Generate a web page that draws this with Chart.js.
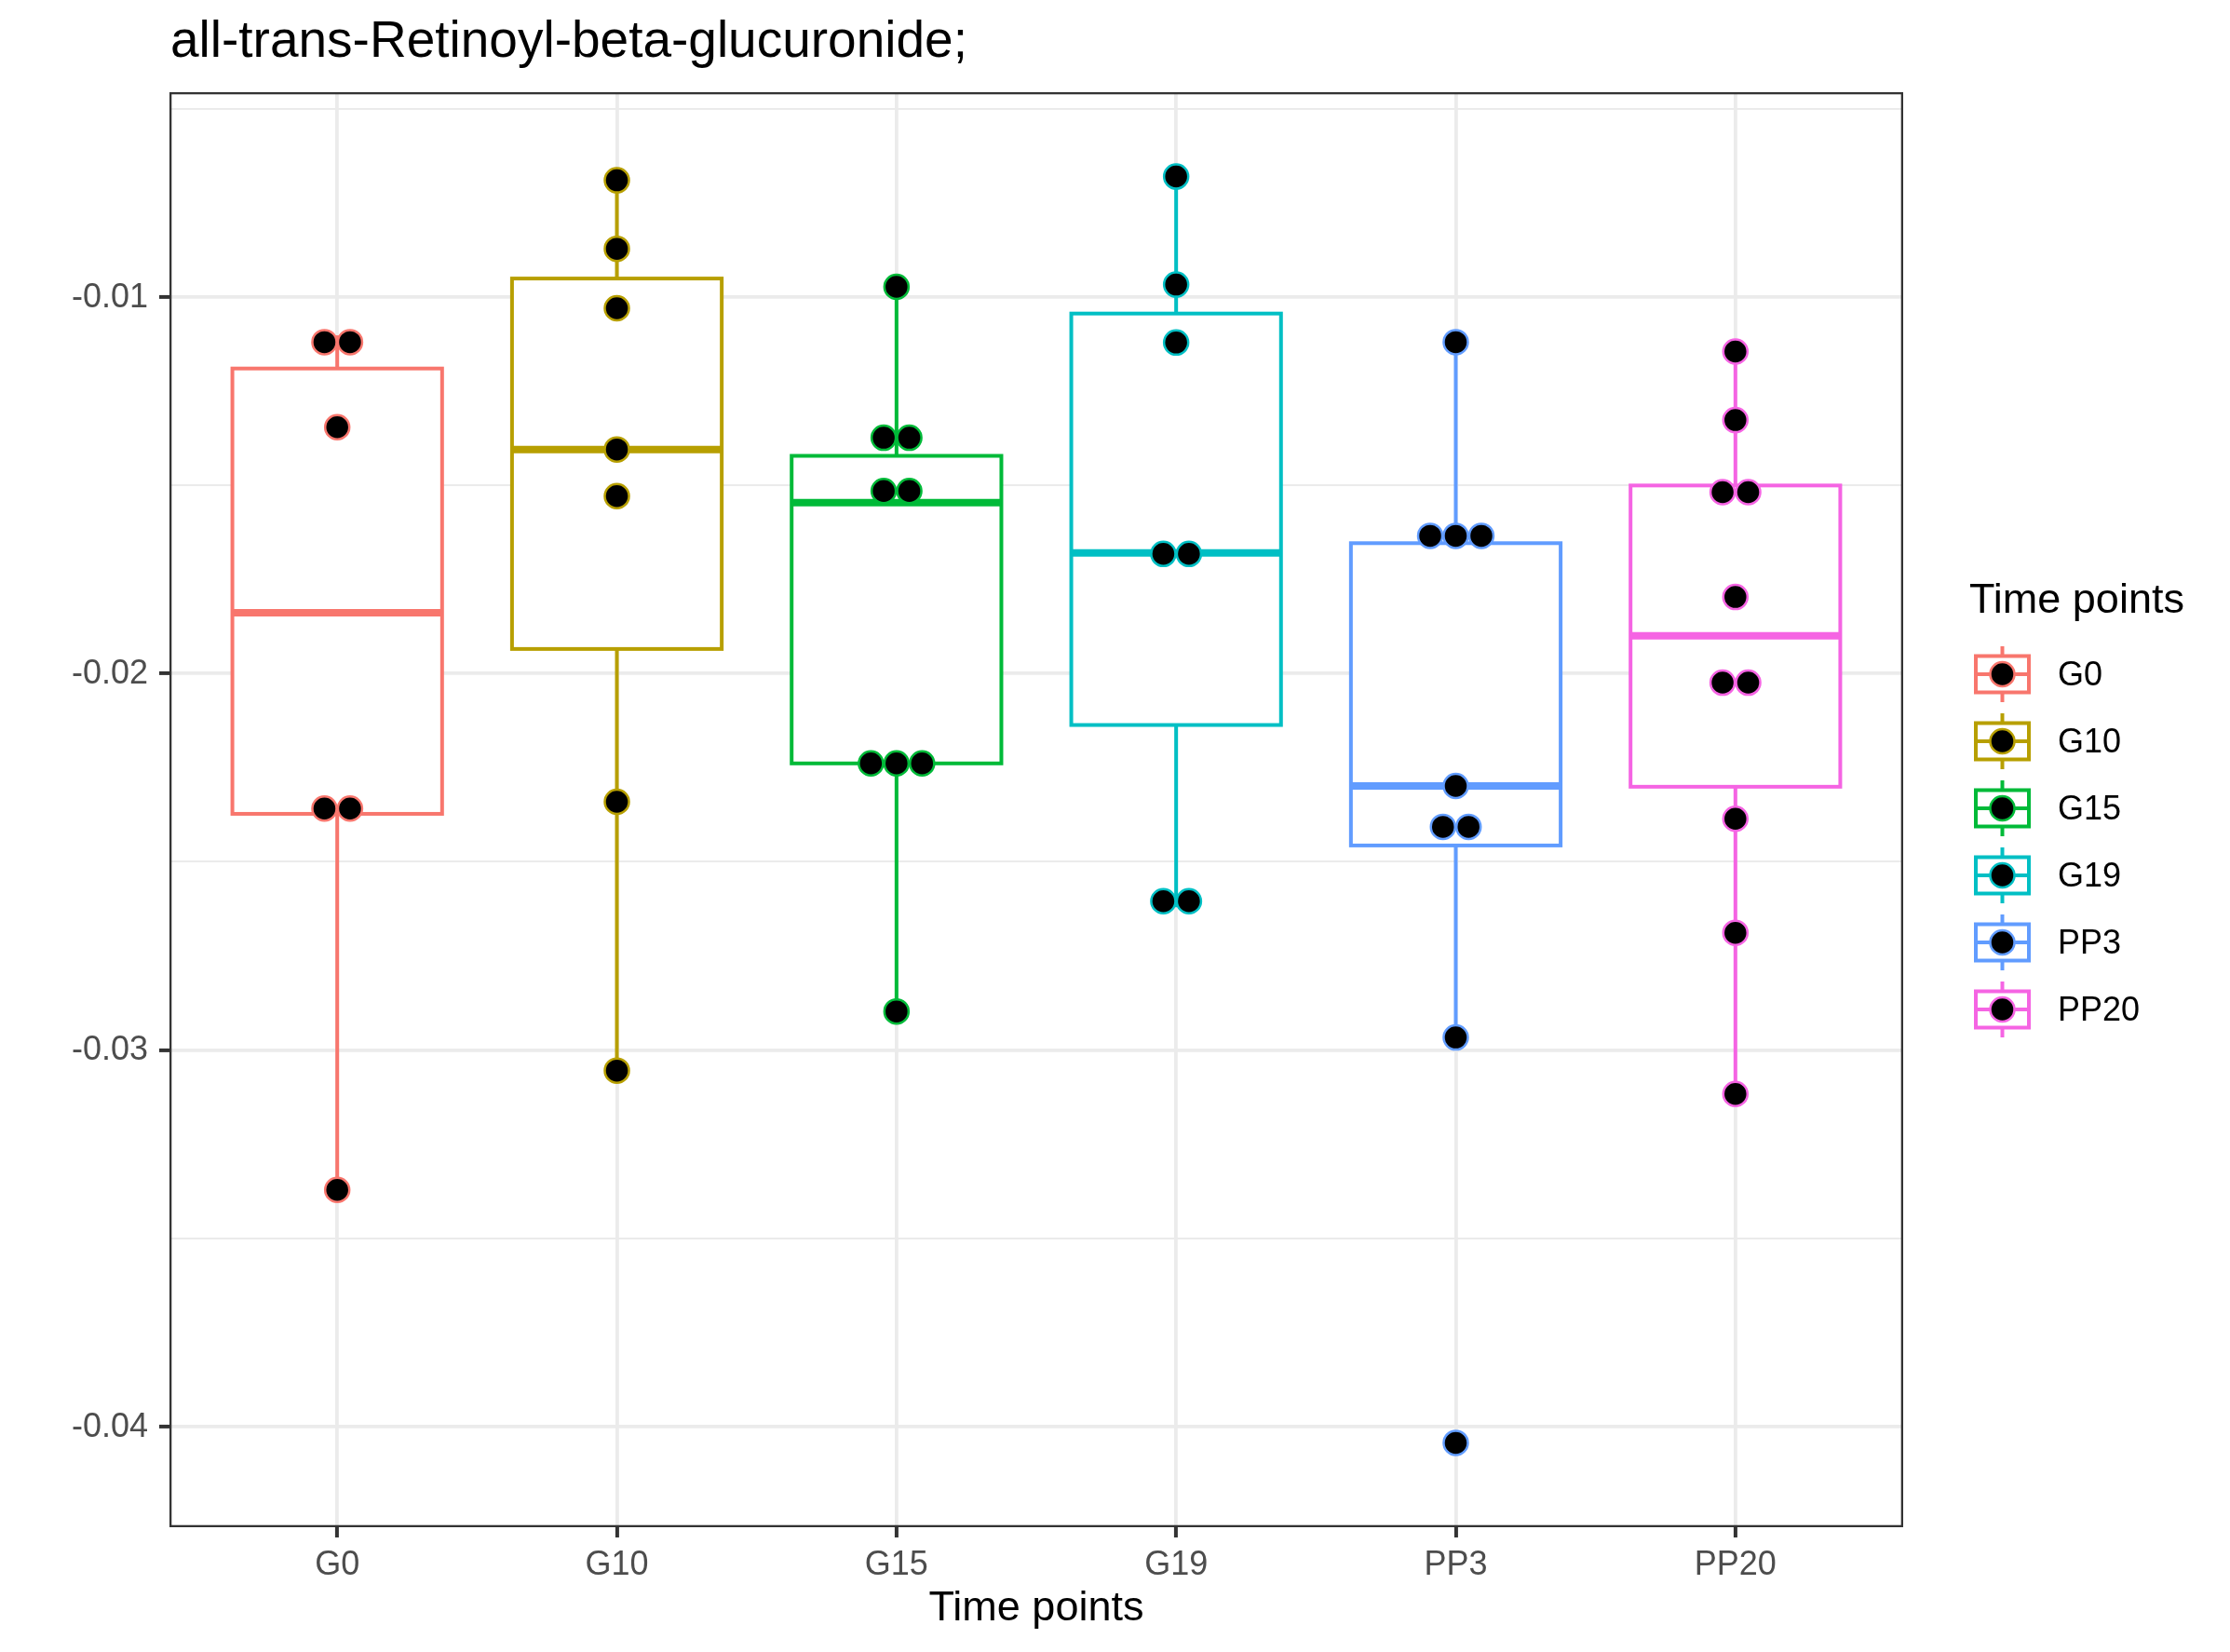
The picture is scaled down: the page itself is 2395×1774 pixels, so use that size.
<!DOCTYPE html>
<html>
<head>
<meta charset="utf-8">
<title>all-trans-Retinoyl-beta-glucuronide;</title>
<script src="https://cdn.jsdelivr.net/npm/chart.js@4.4.1/dist/chart.umd.min.js"></script>
<style>
  html, body { margin: 0; padding: 0; background: #ffffff; }
  canvas { display: block; }
</style>
</head>
<body>
<canvas id="grafico" width="2395" height="1774"></canvas>
<script>
// ============================
// DADOS
// ============================
const titulo = 'all-trans-Retinoyl-beta-glucuronide;';
const tituloEixoX = 'Time points';
const tituloLegenda = 'Time points';

const categorias = ['G0', 'G10', 'G15', 'G19', 'PP3', 'PP20'];
const cores = ['#F8766D', '#B79F00', '#00BA38', '#00BFC4', '#619CFF', '#F564E3'];

const valoresG0 = [-0.01102, -0.01138, -0.01346, -0.02331, -0.02387, -0.03372];
const valoresG10 = [-0.00690, -0.00872, -0.01030, -0.01405, -0.01529, -0.02341, -0.03055];
const valoresG15 = [-0.00973, -0.01326, -0.01422, -0.01485, -0.01546, -0.02214, -0.02239, -0.02264, -0.02898];
const valoresG19 = [-0.00680, -0.00967, -0.01121, -0.01680, -0.01685, -0.02589, -0.02621];
const valoresPP3 = [-0.01120, -0.01599, -0.01654, -0.01670, -0.02299, -0.02358, -0.02457, -0.02967, -0.04044];
const valoresPP20 = [-0.01145, -0.01327, -0.01483, -0.01554, -0.01797, -0.02003, -0.02046, -0.02386, -0.02689, -0.03117];

const grupos = [valoresG0, valoresG10, valoresG15, valoresG19, valoresPP3, valoresPP20];

const ticksYMaiores = [-0.04, -0.03, -0.02, -0.01];
const rotulosY = ['-0.04', '-0.03', '-0.02', '-0.01'];
const ticksYMenores = [-0.035, -0.025, -0.015, -0.005];

const fonte = '"Liberation Sans", Arial, Helvetica, sans-serif';

// ============================
// ESTATÍSTICAS DO BOXPLOT
// ============================
function quantil(ordenados, p) {
  const h = (ordenados.length - 1) * p;
  const lo = Math.floor(h);
  const hi = Math.min(lo + 1, ordenados.length - 1);
  return ordenados[lo] + (h - lo) * (ordenados[hi] - ordenados[lo]);
}

function estatisticas(lista) {
  const ord = [...lista].sort((a, b) => a - b);
  const q1 = quantil(ord, 0.25);
  const med = quantil(ord, 0.5);
  const q3 = quantil(ord, 0.75);
  const iqr = q3 - q1;
  const dentro = ord.filter(v => v >= q1 - 1.5 * iqr && v <= q3 + 1.5 * iqr);
  return { q1, med, q3, min: dentro[0], max: dentro[dentro.length - 1] };
}

// ============================
// DOTPLOT (binagem como ggplot)
// ============================
const todos = grupos.flat();
const larguraBin = (Math.max(...todos) - Math.min(...todos)) / 30;
const passoPonto = 0.0915;

function agruparPontos(lista) {
  const ord = [...lista].sort((a, b) => a - b);
  const bins = [];
  let fim = -Infinity;
  let atual = null;
  ord.forEach(v => {
    if (v >= fim) {
      atual = [];
      bins.push(atual);
      fim = v + larguraBin;
    }
    atual.push(v);
  });
  return bins.map(b => ({ centro: (b[0] + b[b.length - 1]) / 2, n: b.length }));
}

const datasets = grupos.map((lista, i) => {
  const pontos = [];
  agruparPontos(lista).forEach(bin => {
    for (let j = 0; j < bin.n; j++) {
      pontos.push({ x: i + (j - (bin.n - 1) / 2) * passoPonto, y: bin.centro });
    }
  });
  return {
    label: categorias[i],
    data: pontos,
    pointRadius: 13,
    pointHoverRadius: 13,
    pointBorderWidth: 2.5,
    pointBackgroundColor: '#000000',
    pointBorderColor: cores[i]
  };
});

function ehMaior(v) {
  return ticksYMaiores.some(t => Math.abs(t - v) < 1e-9);
}

// ============================
// PLUGINS
// ============================
function linha(ctx, x1, y1, x2, y2) {
  ctx.beginPath();
  ctx.moveTo(x1, y1);
  ctx.lineTo(x2, y2);
  ctx.stroke();
}

const pluginCaixas = {
  id: 'caixas',
  beforeDatasetsDraw(chart) {
    const { ctx, scales: { x, y } } = chart;
    ctx.save();
    grupos.forEach((lista, i) => {
      const e = estatisticas(lista);
      const xc = x.getPixelForValue(i);
      const xe = x.getPixelForValue(i - 0.375);
      const xd = x.getPixelForValue(i + 0.375);
      ctx.strokeStyle = cores[i];
      ctx.lineWidth = 4;
      ctx.lineCap = 'butt';
      linha(ctx, xc, y.getPixelForValue(e.q3), xc, y.getPixelForValue(e.max));
      linha(ctx, xc, y.getPixelForValue(e.q1), xc, y.getPixelForValue(e.min));
      const yt = y.getPixelForValue(e.q3);
      const yb = y.getPixelForValue(e.q1);
      ctx.fillStyle = '#ffffff';
      ctx.fillRect(xe, yt, xd - xe, yb - yt);
      ctx.strokeRect(xe, yt, xd - xe, yb - yt);
      ctx.lineWidth = 8;
      const ym = y.getPixelForValue(e.med);
      linha(ctx, xe, ym, xd, ym);
    });
    ctx.restore();
  },
  afterDatasetsDraw(chart) {
    const { ctx, chartArea: a } = chart;
    ctx.save();
    ctx.beginPath();
    ctx.rect(a.left, a.top, a.right - a.left, a.bottom - a.top);
    ctx.clip();
    ctx.strokeStyle = '#333333';
    ctx.lineWidth = 4.6;
    ctx.strokeRect(a.left, a.top, a.right - a.left, a.bottom - a.top);
    ctx.restore();
  }
};

const pluginTextos = {
  id: 'textos',
  afterDraw(chart) {
    const { ctx, chartArea: a } = chart;
    ctx.save();
    // titulo
    ctx.fillStyle = '#000000';
    ctx.textAlign = 'left';
    ctx.textBaseline = 'alphabetic';
    ctx.font = '55px ' + fonte;
    ctx.fillText(titulo, a.left + 1, 61);

    // legenda
    const lx = a.right + 78;
    const larg = 57;
    const alt = 39;
    const y0 = 724;
    const passo = 72;
    ctx.font = '45px ' + fonte;
    ctx.fillText(tituloLegenda, a.right + 71, 658);

    categorias.forEach((cat, i) => {
      const cy = y0 + i * passo;
      const cx = lx + larg / 2;
      ctx.strokeStyle = cores[i];
      ctx.lineWidth = 4;
      linha(ctx, cx, cy - 30, cx, cy - alt / 2);
      linha(ctx, cx, cy + alt / 2, cx, cy + 30);
      ctx.fillStyle = '#ffffff';
      ctx.fillRect(lx, cy - alt / 2, larg, alt);
      ctx.strokeRect(lx, cy - alt / 2, larg, alt);
      linha(ctx, lx, cy, lx + larg, cy);
      ctx.beginPath();
      ctx.arc(cx, cy, 13, 0, Math.PI * 2);
      ctx.fillStyle = '#000000';
      ctx.fill();
      ctx.lineWidth = 2.5;
      ctx.stroke();

      ctx.fillStyle = '#000000';
      ctx.font = '36px ' + fonte;
      ctx.textBaseline = 'middle';
      ctx.fillText(cat, lx + 88, cy + 2);
      ctx.textBaseline = 'alphabetic';
    });
    ctx.restore();
  }
};

// ============================
// GRÁFICO
// ============================
Chart.defaults.font.family = fonte;

const ctxGrafico = document.getElementById('grafico').getContext('2d');

new Chart(ctxGrafico, {
  type: 'scatter',
  data: { datasets },
  options: {
    responsive: false,
    animation: false,
    devicePixelRatio: 1,
    layout: { padding: { top: 99, right: 351, left: 0, bottom: 0 } },
    plugins: {
      legend: { display: false },
      tooltip: { enabled: false },
      title: { display: false }
    },
    scales: {
      x: {
        type: 'linear',
        min: -0.6,
        max: 5.6,
        afterBuildTicks: s => { s.ticks = categorias.map((_, i) => ({ value: i })); },
        afterFit: s => { s.height = 134; },
        border: { display: false },
        grid: {
          color: '#EBEBEB',
          lineWidth: 3.8,
          tickColor: '#333333',
          tickWidth: 4,
          tickLength: 11
        },
        ticks: {
          callback: v => categorias[v],
          color: '#4D4D4D',
          font: { size: 36 },
          padding: 8,
          autoSkip: false,
          maxRotation: 0
        },
        title: {
          display: true,
          text: tituloEixoX,
          color: '#000000',
          font: { size: 45 },
          padding: { top: 0, bottom: 19 }
        }
      },
      y: {
        type: 'linear',
        min: -0.04268,
        max: -0.00456,
        afterBuildTicks: s => {
          s.ticks = [...ticksYMaiores, ...ticksYMenores]
            .sort((a, b) => a - b)
            .map(v => ({ value: v }));
        },
        afterFit: s => { s.width = 182; },
        border: { display: false },
        grid: {
          color: '#EBEBEB',
          lineWidth: c => ehMaior(c.tick.value) ? 3.8 : 1.9,
          tickColor: c => ehMaior(c.tick.value) ? '#333333' : 'rgba(0,0,0,0)',
          tickWidth: 4,
          tickLength: 11
        },
        ticks: {
          callback: v => {
            const k = ticksYMaiores.findIndex(t => Math.abs(t - v) < 1e-9);
            return k >= 0 ? rotulosY[k] : '';
          },
          color: '#4D4D4D',
          font: { size: 36 },
          padding: 12,
          labelOffset: 1,
          autoSkip: false
        }
      }
    }
  },
  plugins: [pluginCaixas, pluginTextos]
});
</script>
</body>
</html>
